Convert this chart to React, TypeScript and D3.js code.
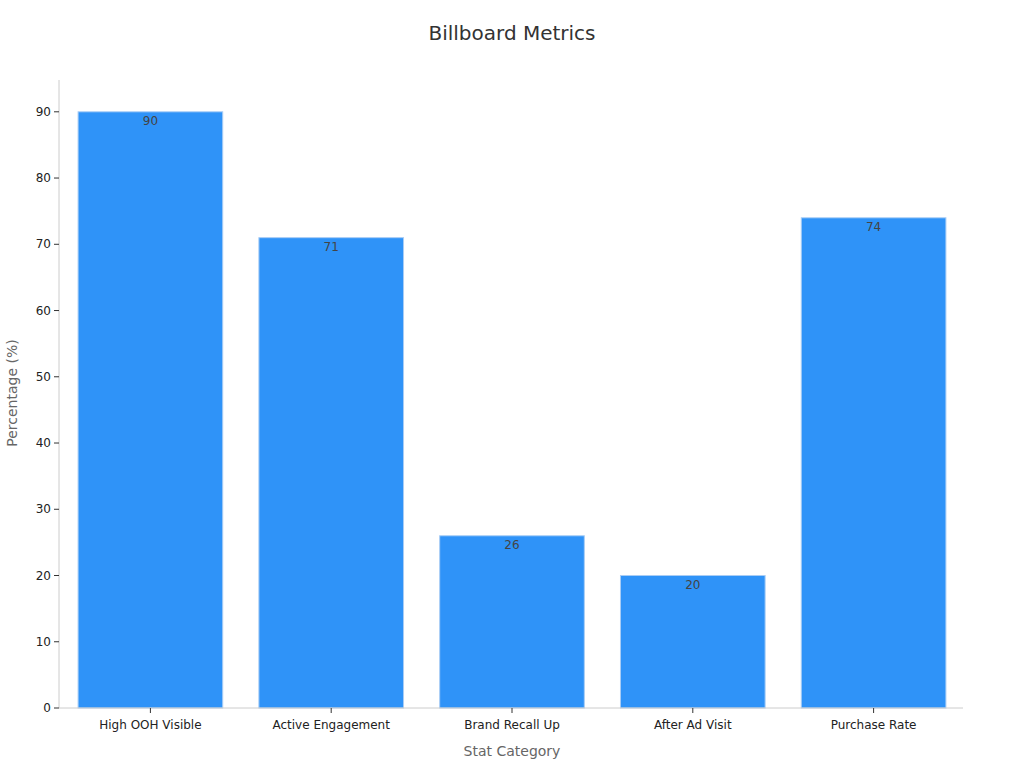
import React from "react";
import * as d3 from "d3";

const categories = ["High OOH Visible", "Active Engagement", "Brand Recall Up", "After Ad Visit", "Purchase Rate"];
const values = [90, 71, 26, 20, 74];
const yTicks = [0, 10, 20, 30, 40, 50, 60, 70, 80, 90];

const W = 1024;
const H = 768;
const left = 59;
const right = 963;
const top = 80;
const bottom = 708;
const font = "DejaVu Sans, sans-serif";

export default function App() {
  const x = d3.scaleBand<string>().domain(categories).range([left + 1, right + 1]).paddingInner(0.2).paddingOuter(0.1);
  const y = d3.scaleLinear().domain([0, 94.8]).range([bottom, top]);
  return (
    <svg width={W} height={H} style={{ position: "absolute", left: 0, top: 0 }} fontFamily={font}>
      <rect width={W} height={H} fill="#fff" />
      <text x={512} y={40} textAnchor="middle" fontSize={20} fill="#333">Billboard Metrics</text>
      {categories.map((c, i) => (
        <g key={c}>
          <rect x={x(c)!} y={y(values[i])} width={x.bandwidth()} height={bottom - y(values[i])} fill="#2f93f8" stroke="#a9cdf5" strokeWidth={1} />
          <text x={x(c)! + x.bandwidth() / 2} y={y(values[i]) + 13} textAnchor="middle" fontSize={12} fill="#444">{values[i]}</text>
        </g>
      ))}
      <line x1={left} x2={left} y1={top} y2={bottom} stroke="#ccc" />
      <line x1={left} x2={right} y1={bottom} y2={bottom} stroke="#ccc" />
      {yTicks.map((t) => (
        <g key={t}>
          <line x1={left - 5} x2={left} y1={y(t)} y2={y(t)} stroke="#333" />
          <text x={left - 8} y={y(t)} dy="0.35em" textAnchor="end" fontSize={12} fill="#222">{t}</text>
        </g>
      ))}
      {categories.map((c) => (
        <g key={c + "t"}>
          <line x1={x(c)! + x.bandwidth() / 2} x2={x(c)! + x.bandwidth() / 2} y1={bottom} y2={bottom + 5} stroke="#333" />
          <text x={x(c)! + x.bandwidth() / 2} y={bottom + 20.5} textAnchor="middle" fontSize={12} fill="#222">{c}</text>
        </g>
      ))}
      <text x={512} y={756} textAnchor="middle" fontSize={14} fill="#666">Stat Category</text>
      <text transform={`translate(17,393) rotate(-90)`} textAnchor="middle" fontSize={14} fill="#666">Percentage (%)</text>
    </svg>
  );
}
